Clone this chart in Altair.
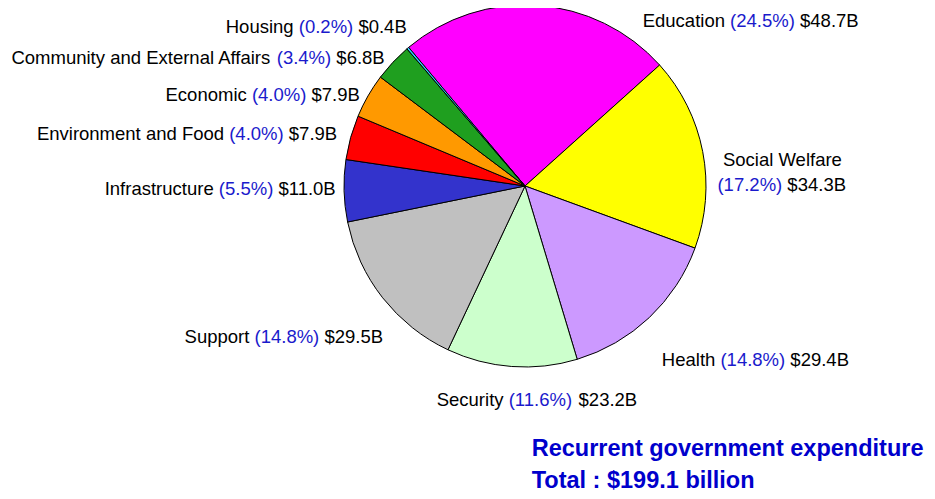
import math
import altair as alt
import pandas as pd

# ---------------- data ----------------
names = ["Education", "Social Welfare", "Health", "Security", "Support",
         "Infrastructure", "Environment and Food", "Economic",
         "Community and External Affairs", "Housing"]
values = [48.7, 34.3, 29.4, 23.2, 29.5, 11.0, 7.9, 7.9, 6.8, 0.4]
pcts = ["24.5%", "17.2%", "14.8%", "11.6%", "14.8%", "5.5%", "4.0%", "4.0%", "3.4%", "0.2%"]
amounts = ["$48.7B", "$34.3B", "$29.4B", "$23.2B", "$29.5B", "$11.0B", "$7.9B", "$7.9B", "$6.8B", "$0.4B"]
title_lines = ["Recurrent government expenditure", "Total : $199.1 billion"]

# ---------------- styles / layout ----------------
colors = ["#ff00ff", "#ffff00", "#cc99ff", "#ccffcc", "#c0c0c0",
          "#3333cc", "#ff0000", "#ff9900", "#1f9f1f", "#33ccff"]
FONT = "Liberation Sans"
LABEL_SIZE = 18.5
TITLE_SIZE = 23.5
PCT_COLOR = "#1a1acc"
TITLE_COLOR = "#0000cc"
W, H = 919, 483
CX, CY, R = 517, 178, 181
START = math.radians(-40)
LR = 195
# per-label (dx, dy, align) offsets from the slice mid-angle point
label_layout = {
    "Education": (104, 30, "left"),
    "Social Welfare": (1, 36, "left"),
    "Health": (3, 32, "left"),
    "Security": (-74, 19.5, "left"),
    "Support": (11.4, 30.6, "right"),
    "Infrastructure": (7, -2, "right"),
    "Environment and Food": (0, 0, "right"),
    "Economic": (4, 6, "right"),
    "Community and External Affairs": (2, 5, "right"),
    "Housing": (8, -10, "right"),
}
SW_LINE1_OFFSET = (5.5, -25)

# Arial / Liberation Sans advance widths (per 1000 em) used to place text segments
ADV = {" ": 278, "(": 333, ")": 333, "%": 889, ".": 278, "$": 556, "B": 667,
       "A": 667, "C": 722, "E": 667, "F": 611, "H": 722, "I": 278, "S": 667, "W": 944,
       "a": 556, "c": 500, "d": 556, "e": 556, "f": 278, "g": 556, "h": 556, "i": 222,
       "l": 222, "m": 833, "n": 556, "o": 556, "p": 556, "r": 333, "s": 500, "t": 278,
       "u": 556, "v": 500, "x": 500, "y": 500}
for _d in "0123456789":
    ADV[_d] = 556


def tw(s):
    return sum(ADV.get(ch, 556) for ch in s) * LABEL_SIZE / 1000.0


# ---------------- tables ----------------
slices = pd.DataFrame({"name": names, "value": values, "idx": list(range(len(names)))})

total = sum(values)
segs = []


def add_line(x_left, y, parts):
    x = x_left
    for text, kind in parts:
        segs.append(dict(sx=x, sy=y, txt=text, kind=kind))
        x += tw(text + " ")


cum = 0.0
for name, v, p, a in zip(names, values, pcts, amounts):
    mid = START + 2 * math.pi * (cum + v / 2) / total
    cum += v
    dx, dy, align = label_layout[name]
    bx = CX + LR * math.sin(mid) + dx
    by = CY - LR * math.cos(mid) + dy
    ptxt = f"({p})"
    if name == "Social Welfare":
        add_line(bx, by, [(ptxt, "pct"), (a, "val")])
        add_line(bx + SW_LINE1_OFFSET[0], by + SW_LINE1_OFFSET[1], [(name, "name")])
        continue
    parts = [(name, "name"), (ptxt, "pct"), (a, "val")]
    full = f"{name} {ptxt} {a}"
    x_left = bx if align == "left" else bx - tw(full)
    add_line(x_left, by, parts)

segments = pd.DataFrame(segs)
titles = pd.DataFrame({"t": title_lines, "ty": [441, 473]})

# ---------------- chart ----------------
pie = alt.Chart(slices).mark_arc(radius=R, stroke="black", strokeWidth=1).encode(
    theta=alt.Theta("value:Q", stack=True,
                    scale=alt.Scale(range=[START, START + 2 * math.pi])),
    color=alt.Color("name:N", scale=alt.Scale(domain=names, range=colors), legend=None),
    order=alt.Order("idx:Q"),
    x=alt.value(CX),
    y=alt.value(CY),
)

label_layer = alt.Chart(segments).mark_text(
    align="left", baseline="middle", font=FONT, fontSize=LABEL_SIZE
).encode(
    x=alt.X("sx:Q", scale=None, axis=None),
    y=alt.Y("sy:Q", scale=None, axis=None),
    text=alt.Text("txt:N"),
    color=alt.Color("kind:N", scale=alt.Scale(domain=["name", "pct", "val"],
                                              range=["black", PCT_COLOR, "black"]),
                    legend=None),
)

title_layer = alt.Chart(titles).mark_text(
    align="left", baseline="middle", font=FONT, fontSize=TITLE_SIZE,
    fontWeight="bold", color=TITLE_COLOR
).encode(
    x=alt.value(523.7),
    y=alt.Y("ty:Q", scale=None, axis=None),
    text="t:N",
)

chart = alt.layer(pie, label_layer, title_layer).resolve_scale(
    color="independent"
).properties(
    width=W, height=H, padding=0, autosize=alt.AutoSizeParams(type="none")
).configure_view(stroke=None)

chart.save("out.html", embed_options={"renderer": "svg", "actions": False})
